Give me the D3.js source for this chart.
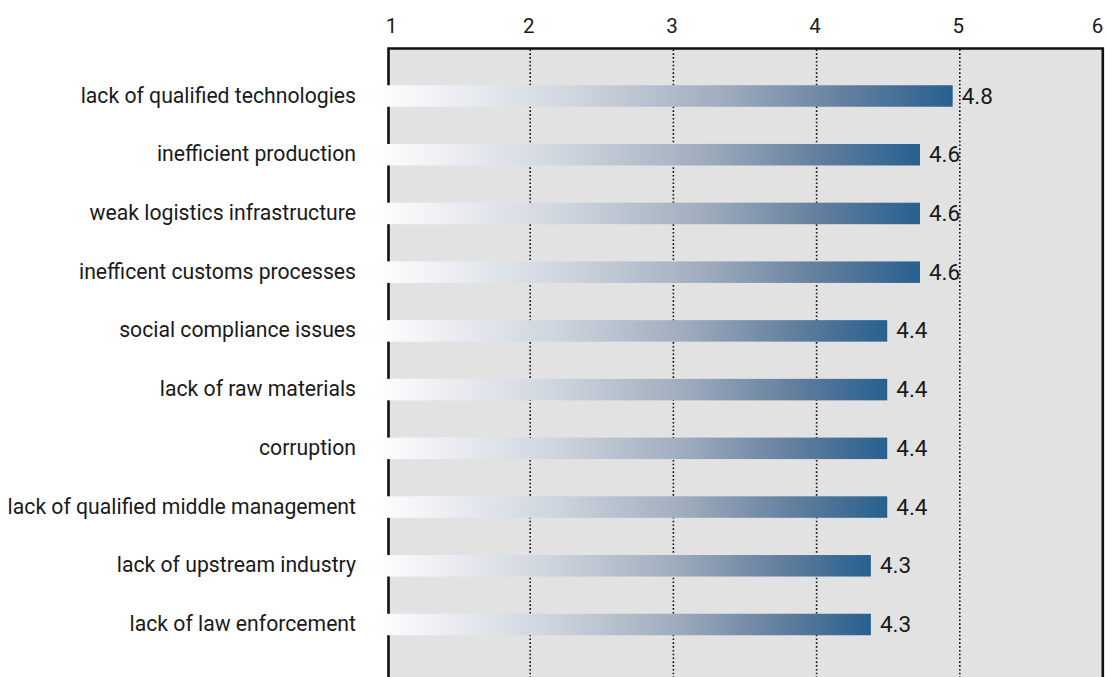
<!DOCTYPE html>
<html>
<head>
<meta charset="utf-8">
<script src="https://cdn.jsdelivr.net/npm/d3@7"></script>
<style>
  html, body { margin: 0; padding: 0; background: #ffffff; }
  svg { display: block; font-family: Roboto, "Noto Sans", sans-serif; }
</style>
</head>
<body>
<svg id="chart" width="1107" height="677"></svg>
<script>
// Obstacles, ranked by mean rating (1 = low, 6 = high)
const categories = [
  "lack of qualified technologies",
  "inefficient production",
  "weak logistics infrastructure",
  "inefficent customs processes",
  "social compliance issues",
  "lack of raw materials",
  "corruption",
  "lack of qualified middle management",
  "lack of upstream industry",
  "lack of law enforcement"
];
const scores = [4.8, 4.6, 4.6, 4.6, 4.4, 4.4, 4.4, 4.4, 4.3, 4.3];
const tickValues = [1, 2, 3, 4, 5, 6];
const gridValues = [2, 3, 4, 5];

const W = 1107, H = 677;
const svg = d3.select("#chart");

// Rating axis along the top, with its dotted guides
const x = d3.scaleLinear().domain([1, 6]).range([387, 1103]);
// Bar length scale (bars run from a common start to their score)
const xBar = d3.scaleLinear().domain([1, 6]).range([331, 1149]);
const barStart = 375;

const y = d3.scalePoint().domain(categories).range([96, 624.5]);
const barH = 21.5;

const frame = { left: 388.5, right: 1102.8, top: 48.5 };

// Plot panel
svg.append("rect")
  .attr("x", frame.left).attr("y", frame.top)
  .attr("width", frame.right - frame.left)
  .attr("height", H + 20 - frame.top)
  .attr("fill", "#e2e2e2");

// Dotted gridlines
svg.append("g")
  .selectAll("line")
  .data(gridValues)
  .join("line")
  .attr("x1", d => x(d)).attr("x2", d => x(d))
  .attr("y1", frame.top + 1).attr("y2", H)
  .attr("stroke", "#111")
  .attr("stroke-width", 1.6)
  .attr("stroke-dasharray", "1.6,2.2");

// Panel border (top, left, right)
svg.append("path")
  .attr("d", `M${frame.left},${H + 20}V${frame.top}H${frame.right}V${H + 20}`)
  .attr("fill", "none")
  .attr("stroke", "#111")
  .attr("stroke-width", 2.6);

// Top axis labels; the end labels are pulled inside the panel edges
const axis = d3.axisTop(x).tickValues(tickValues).tickSize(0).tickPadding(0)
  .tickFormat(d3.format("d"));
const axisG = svg.append("g").attr("transform", "translate(0,33)").call(axis);
axisG.select(".domain").remove();
axisG.selectAll("text")
  .attr("font-family", "Roboto, sans-serif")
  .attr("font-size", 20.5)
  .attr("fill", "#1a1a1a")
  .attr("dy", 0)
  .attr("dx", d => d === tickValues[0] ? 4 : d === tickValues[tickValues.length - 1] ? -6 : -2);

// Gradient fill per bar: light at the start, deep blue at the end
const defs = svg.append("defs");
const grad = defs.append("linearGradient")
  .attr("id", "barGrad")
  .attr("x1", "0%").attr("x2", "100%").attr("y1", "0%").attr("y2", "0%");
[
  [0, "#ffffff"],
  [0.12, "#eef0f4"],
  [0.35, "#cfd5de"],
  [0.6, "#a0adbe"],
  [0.82, "#627e9e"],
  [1, "#27608f"]
].forEach(([o, c]) => grad.append("stop").attr("offset", o).attr("stop-color", c));

const rows = categories.map((c, i) => ({ category: c, score: scores[i] }));

svg.append("g")
  .selectAll("rect")
  .data(rows)
  .join("rect")
  .attr("x", barStart)
  .attr("y", d => y(d.category) - barH / 2)
  .attr("width", d => xBar(d.score) - barStart)
  .attr("height", barH)
  .attr("fill", "url(#barGrad)");

// Category labels
svg.append("g")
  .selectAll("text")
  .data(rows)
  .join("text")
  .attr("x", 356)
  .attr("y", d => y(d.category) + 6.5)
  .attr("text-anchor", "end")
  .attr("font-size", 21.2)
  .attr("fill", "#1a1a1a")
  .text(d => d.category);

// Value labels
svg.append("g")
  .selectAll("text")
  .data(rows)
  .join("text")
  .attr("x", d => xBar(d.score) + 9)
  .attr("y", d => y(d.category) + 7.5)
  .attr("font-size", 22.5)
  .attr("fill", "#1a1a1a")
  .text(d => d3.format(".1f")(d.score));
</script>
</body>
</html>
